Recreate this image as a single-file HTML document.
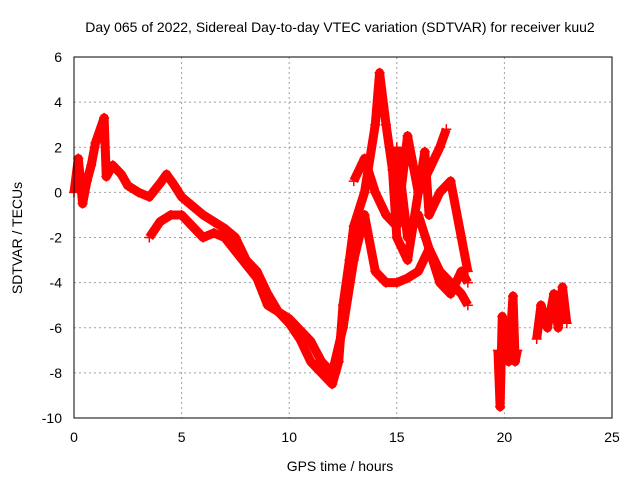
<!DOCTYPE html>
<html><head><meta charset="utf-8"><style>
body{margin:0;background:#fff;}
svg text{font-family:"Liberation Sans",sans-serif;font-size:14px;fill:#000;}
</style></head><body>
<svg id="chart" width="640" height="480">
<text x="340" y="32" text-anchor="middle">Day 065 of 2022, Sidereal Day-to-day VTEC variation (SDTVAR) for receiver kuu2</text>
<text x="340" y="471" text-anchor="middle">GPS time / hours</text>
<text transform="translate(22,238) rotate(-90)" text-anchor="middle">SDTVAR / TECUs</text>
<g id="grid"></g><g id="marks"></g>
<rect x="74" y="57" width="538" height="361" fill="none" stroke="#000" stroke-width="1"/>
</svg>
<script>
const xTicks=[0,5,10,15,20,25];
const yTicks=[6,4,2,0,-2,-4,-6,-8,-10];
const s1=[[0,0],[0.2,1.5],[0.4,-0.5],[0.6,0.5],[0.8,1.2],[1.0,2.2],[1.4,3.3],[1.5,0.7],[1.8,1.2],[2.2,0.8],[2.5,0.3],[3,0],[3.5,-0.2],[4,0.4],[4.3,0.8],[4.6,0.4],[5,-0.2],[5.5,-0.6],[6,-1],[6.5,-1.3],[7,-1.6],[7.5,-2],[8,-3],[8.5,-3.5],[9,-4.5],[9.5,-5.3],[10,-5.8],[10.5,-6.5],[11,-7.5],[11.5,-8],[12,-8.5],[12.3,-7.5],[12.5,-5],[12.8,-3],[13,-1.5],[13.5,0],[14,3],[14.2,5.3],[14.5,3],[14.8,1],[15,-2],[15.5,-3],[16,0],[16.5,1],[17,2],[17.3,2.8]];
const s2=[[3.5,-2],[4,-1.3],[4.5,-1],[5,-1],[5.5,-1.5],[6,-2],[6.5,-1.8],[7,-2],[7.5,-2.6],[8,-3.2],[8.5,-3.8],[9,-5],[10,-5.6],[11,-6.6],[11.5,-7.5],[12,-8],[12.5,-6],[13,-3],[13.5,-1],[14,-3.5],[14.5,-4],[15,-4],[15.5,-3.8],[16,-3.5],[16.5,-2.5],[17,-3.5],[17.5,-4],[18,-4.5],[18.3,-5]];
const s3=[[13,0.5],[13.5,1.5],[14,0],[14.5,-1],[15,-1.5],[15.5,2.5],[16,0],[16.3,1.8],[16.5,-1],[17,0],[17.5,0.5],[18,-2],[18.3,-3.5]];
const s4=[[15,2],[15.5,-2],[16,-1],[17,-4],[17.5,-4.5],[18,-3.5],[18.3,-4]];
const s5=[[19.7,-7],[19.8,-9.5],[19.9,-5.5],[20.2,-7.5],[20.4,-4.6],[20.5,-7.5],[20.6,-7]];
const s6=[[21.5,-6.5],[21.7,-5],[22,-6],[22.3,-4.5],[22.5,-6],[22.7,-4.2],[22.9,-5.8]];
const seriesList=[s1,s2,s3,s4,s5,s6];
const NS="http://www.w3.org/2000/svg";
const X=v=>74+v*(538/25), Y=v=>57+(6-v)*(361/16);
const svg=document.getElementById('chart'),grid=document.getElementById('grid'),marks=document.getElementById('marks');
function mk(t,a,p){const e=document.createElementNS(NS,t);for(const k in a)e.setAttribute(k,a[k]);(p||svg).appendChild(e);return e;}
xTicks.forEach(t=>{
 const l=mk('line',{x1:X(t),x2:X(t),y1:57,y2:418,stroke:'#a0a0a0','stroke-dasharray':'2,3'},grid);
 
 
 const tx=mk('text',{x:X(t),y:442,'text-anchor':'middle'});tx.textContent=t;
 
 
});
yTicks.forEach(t=>{
 const l=mk('line',{x1:74,x2:612,y1:Y(t),y2:Y(t),stroke:'#a0a0a0','stroke-dasharray':'2,3'},grid);
 
 
 const tx=mk('text',{x:62,y:Y(t)+5,'text-anchor':'end'});tx.textContent=t;
 
 
});
seriesList.forEach(s=>{
 const pl=mk('polyline',{points:s.map(p=>X(p[0])+','+Y(p[1])).join(' '),fill:'none',stroke:'#f00','stroke-width':9,'stroke-linejoin':'round'},marks);
 
 
 s.forEach(p=>{
  const x=X(p[0]),y=Y(p[1]);
  const m=mk('path',{d:`M${x-5},${y}H${x+5}M${x},${y-5}V${y+5}`,stroke:'#f00','stroke-width':1.5},marks);
  
  
 });
});
</script>
</body></html>
